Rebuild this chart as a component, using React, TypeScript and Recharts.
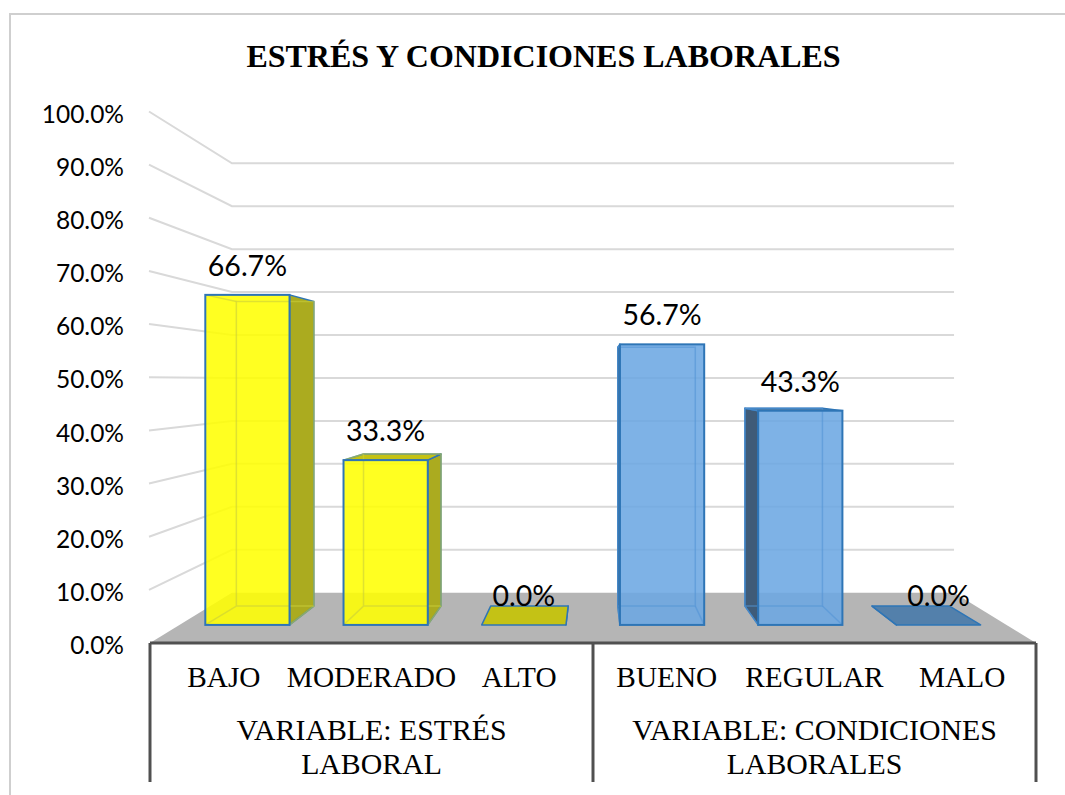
import { BarChart, Bar, XAxis, YAxis, CartesianGrid, LabelList } from "recharts";

const categories = ["BAJO", "MODERADO", "ALTO", "BUENO", "REGULAR", "MALO"];
const groups = ["estres", "estres", "estres", "condiciones", "condiciones", "condiciones"];
const values = [66.7, 33.3, 0, 56.7, 43.3, 0];
const yTicks = [0, 10, 20, 30, 40, 50, 60, 70, 80, 90, 100];
const groupLines: Record<string, string[]> = {
  estres: ["VARIABLE: ESTRÉS", "LABORAL"],
  condiciones: ["VARIABLE: CONDICIONES", "LABORALES"],
};
const title = "ESTRÉS Y CONDICIONES LABORALES";

const chartData = categories.map((name, i) => ({ name, group: groups[i], value: values[i] }));

const CHART_W = 1065;
const CHART_H = 795;
const margin = { top: 111.5, right: 29, bottom: 2, left: 0 };
const CAT_AXIS_H = 50;
const GROUP_AXIS_H = 100;
const PLOT_BOTTOM = CHART_H - margin.bottom - CAT_AXIS_H - GROUP_AXIS_H;
const BAND = (CHART_W - 150 - margin.right) / categories.length;

// fake perspective: everything shrinks towards this point as it goes back
const VP_X = 593;
const VP_Y = 381;
const FRONT_SX = 0.936;
const FRONT_SY = 0.931;
const BACK_SX = 0.861;
const BACK_SY = 0.859;
const WALL_SX = 0.815;
const WALL_SY = 0.808;

const px = (x: number, s: number) => VP_X + (x - VP_X) * s;
const py = (y: number, s: number) => VP_Y + (y - VP_Y) * s;

const YELLOW = { front: "#FFFF00", side: "#ABAB1F", top: "#C4C215", inner: "#C9CF3A" };
const BLUE = { front: "#6BA6E2", side: "#3F5B78", top: "#5380AB", inner: "#5394D6" };
const OUTLINE = "#2E75B6";
const barStyles = [YELLOW, YELLOW, YELLOW, BLUE, BLUE, BLUE];

const poly = (pts: number[][]) => pts.map((p) => p.join(",")).join(" ");

function Box3D(props: any) {
  const { x, y, width, height, index } = props;
  const style = barStyles[index];
  const base = y + height;
  const fl = px(x, FRONT_SX);
  const fr = px(x + width, FRONT_SX);
  const ft = py(y, FRONT_SY);
  const fb = py(base, FRONT_SY);
  const bl = px(x, BACK_SX);
  const br = px(x + width, BACK_SX);
  const bt = py(y, BACK_SY);
  const bb = py(base, BACK_SY);

  return (
    <g>
      {/* side */}
      {br > fr && (
        <polygon points={poly([[fr, ft], [br, bt], [br, bb], [fr, fb]])} fill={style.side} stroke={OUTLINE} strokeWidth={1.5} strokeLinejoin="round" />
      )}
      {bl < fl && (
        <polygon points={poly([[fl, ft], [bl, bt], [bl, bb], [fl, fb]])} fill={style.side} stroke={OUTLINE} strokeWidth={1.5} strokeLinejoin="round" />
      )}
      {/* top, only visible under the horizon */}
      {ft > bt && (
        <polygon points={poly([[fl, ft], [bl, bt], [br, bt], [fr, ft]])} fill={style.top} stroke={OUTLINE} strokeWidth={1.5} strokeLinejoin="round" />
      )}
      {height > 0 && (
        <>
          <rect x={fl} y={ft} width={fr - fl} height={fb - ft} fill={style.front} fillOpacity={0.87} />
          {/* back edges seen through the box */}
          <polyline
            points={poly([[fl, fb], [bl, bb], [bl, bt], [br, bt], [br, bb], [bl, bb]])}
            fill="none"
            stroke={style.inner}
            strokeOpacity={0.6}
            strokeWidth={1.5}
          />
          <polyline points={poly([[fl, ft], [bl, bt]])} fill="none" stroke={style.inner} strokeOpacity={0.6} strokeWidth={1.5} />
          <polyline points={poly([[fr, fb], [br, bb]])} fill="none" stroke={style.inner} strokeOpacity={0.6} strokeWidth={1.5} />
          <rect x={fl} y={ft} width={fr - fl} height={fb - ft} fill="none" stroke={OUTLINE} strokeWidth={2} />
        </>
      )}
    </g>
  );
}

function GridLine(props: any) {
  const { x1, x2, y1 } = props;
  const wl = px(x1, WALL_SX);
  const wr = px(x2, WALL_SX);
  const wy = py(y1, WALL_SY);
  if (Math.abs(y1 - PLOT_BOTTOM) < 1) {
    return <polygon points={poly([[x1, y1], [wl, wy], [wr, wy], [x2, y1]])} fill="#B5B5B5" />;
  }
  return <polyline points={poly([[x1 - 1, y1], [wl, wy], [wr, wy]])} fill="none" stroke="#D9D9D9" strokeWidth={2} />;
}

function BarValueLabel(props: any) {
  const { x, y, width, value } = props;
  const cx = px(x + width / 2, FRONT_SX);
  return (
    <text x={cx} y={py(y, FRONT_SY) - 30} textAnchor="middle" dominantBaseline="central" fontFamily="Lato" fontSize={28.5} fill="#000">
      {`${Number(value).toFixed(1)}%`}
    </text>
  );
}

function CategoryTick(props: any) {
  const { x, payload } = props;
  return (
    <text x={x} y={PLOT_BOTTOM + 44} textAnchor="middle" fontFamily="Liberation Serif" fontSize={29.3} fill="#000">
      {payload.value}
    </text>
  );
}

function GroupTick(props: any) {
  const { x, index, payload } = props;
  const dividers = [];
  if (index % 3 === 0) dividers.push(x - BAND / 2);
  if (index === categories.length - 1) dividers.push(x + BAND / 2);
  return (
    <g>
      {dividers.map((dx) => (
        <line key={dx} x1={dx} x2={dx} y1={PLOT_BOTTOM} y2={782} stroke="#505050" strokeWidth={3} />
      ))}
      {index % 3 === 1 &&
        groupLines[payload.value].map((line, i) => (
          <text key={line} x={x} y={PLOT_BOTTOM + 97 + i * 34} textAnchor="middle" fontFamily="Liberation Serif" fontSize={29.8} fill="#000">
            {line}
          </text>
        ))}
    </g>
  );
}

export default function App() {
  return (
    <div style={{ position: "absolute", left: 0, top: 0, width: CHART_W, height: CHART_H, overflow: "hidden", background: "#fff" }}>
      <div style={{ position: "absolute", left: 9, top: 13, width: CHART_W, height: CHART_H, borderLeft: "2px solid #CFCFCF", borderTop: "2px solid #CFCFCF" }} />
      <div style={{ position: "absolute", left: 0, top: 0 }}>
        <BarChart width={CHART_W} height={CHART_H} data={chartData} margin={margin} barCategoryGap="19.5%">
          <text x={543.5} y={67} textAnchor="middle" fontFamily="Liberation Serif" fontWeight="bold" fontSize={32} fill="#000">
            {title}
          </text>
          <CartesianGrid vertical={false} horizontal={(p: any) => <GridLine key={p.key} {...p} />} />
          <XAxis
            dataKey="name"
            height={CAT_AXIS_H}
            interval={0}
            tickLine={false}
            axisLine={{ stroke: "#505050", strokeWidth: 3 }}
            tick={<CategoryTick />}
          />
          <XAxis
            xAxisId="group"
            dataKey="group"
            height={GROUP_AXIS_H}
            interval={0}
            tickLine={false}
            axisLine={false}
            tick={<GroupTick />}
          />
          <YAxis
            width={150}
            domain={[0, 100]}
            ticks={yTicks}
            interval={0}
            tickLine={false}
            axisLine={false}
            tickSize={0}
            tickMargin={26}
            tick={{ fontFamily: "Lato", fontSize: 24.5, fill: "#000", dy: 2.5 }}
            tickFormatter={(v: number) => `${v.toFixed(1)}%`}
          />
          <Bar dataKey="value" isAnimationActive={false} shape={<Box3D />}>
            <LabelList dataKey="value" content={<BarValueLabel />} />
          </Bar>
        </BarChart>
      </div>
    </div>
  );
}
